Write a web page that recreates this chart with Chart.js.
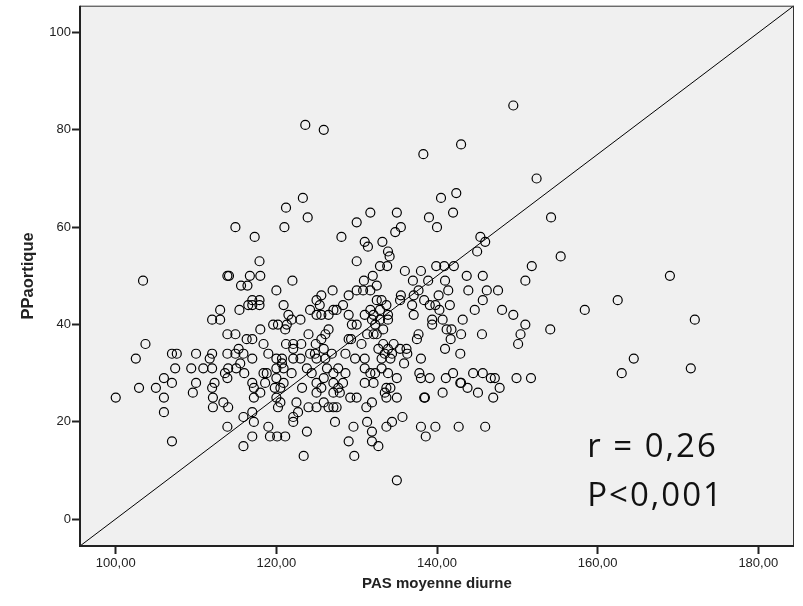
<!DOCTYPE html>
<html>
<head>
<meta charset="utf-8">
<script src="https://cdn.jsdelivr.net/npm/chart.js@4.4.1/dist/chart.umd.min.js"></script>
<style>
  html, body { margin: 0; padding: 0; background: #ffffff; }
  #wrap { width: 803px; height: 606px; }
</style>
</head>
<body>
<div id="wrap"><canvas id="chartPP"></canvas></div>
<script>
// PAS moyenne diurne (x) / PPaortique (y)
const pasDiurne = [
    149.5, 143.0, 138.3, 152.4, 140.5, 142.4, 131.7, 135.0, 130.0, 139.0,
    142.0, 135.5, 134.8, 140.0, 128.1, 154.2, 131.0, 131.4, 133.2, 145.4,
    146.0, 133.9, 134.1, 145.0, 155.4, 130.0, 132.9, 133.8, 136.0, 138.0,
    139.9, 140.9, 142.1, 151.8, 143.7, 145.7, 132.0, 130.9, 137.0, 138.9,
    141.0, 151.0, 132.5, 123.6, 125.9, 123.3, 121.2, 123.9, 114.9, 121.0,
    117.3, 117.9, 113.9, 114.1, 116.7, 118.0, 103.4, 122.0, 115.6, 116.4,
    116.5, 113.0, 115.4, 112.0, 113.0, 113.9, 114.9, 116.3, 103.7, 102.5,
    107.0, 107.6, 110.0, 112.0, 111.7, 113.9, 114.9, 115.9, 115.3, 115.5,
    107.4, 109.4, 110.9, 112.0, 114.0, 115.0, 113.6, 113.9, 116.0, 106.0,
    107.0, 110.0, 112.3, 102.9, 105.0, 112.0, 109.6, 100.0, 106.0, 112.1,
    113.4, 114.0, 112.1, 106.0, 115.9, 113.9, 107.0, 115.9,
    120.0, 127.0, 129.0, 130.0, 130.8, 131.7, 125.6, 125.0, 117.0, 117.9,
    117.0, 117.9, 120.9, 125.4, 124.2, 127.1, 127.5, 128.3, 129.0, 131.0,
    132.5, 133.1, 133.7, 135.5, 135.4, 131.7, 132.1, 132.9, 133.9, 125.0,
    125.6, 126.5, 121.5, 121.9, 123.0, 119.6, 120.2, 121.3, 121.1, 118.0,
    129.4, 130.0, 131.9, 132.3, 132.9, 133.9, 132.5, 133.3, 124.0, 126.5,
    126.1, 125.6, 129.0, 129.3, 131.3, 132.1, 117.0, 118.4, 121.2, 122.1,
    123.1, 124.9, 122.1, 125.9, 130.6, 133.3, 134.6, 132.7, 133.9, 135.4,
    133.5, 134.4, 117.0, 119.0, 120.0, 120.7, 120.7, 122.1, 123.0, 124.2,
    124.8, 125.0, 126.1, 126.9, 128.6, 129.8, 131.0, 133.1, 134.2, 135.9,
    118.4, 118.8, 120.0, 120.9, 121.9, 123.8, 124.4, 126.3, 127.1, 127.7,
    128.6, 131.0, 131.7, 132.3, 133.1, 133.9, 135.0, 117.0, 117.2, 118.6,
    120.0, 119.8, 120.5, 120.9, 123.2, 125.0, 125.6, 125.0, 125.9, 127.1,
    127.7, 128.3, 127.1, 127.9, 131.0, 132.1, 133.7, 133.5, 134.2, 117.2,
    118.0, 120.0, 120.5, 120.2, 122.5, 124.0, 125.0, 126.5, 127.1, 127.5,
    125.9, 129.2, 130.0, 131.9, 131.2, 133.7, 135.0, 117.0, 117.2, 122.1,
    122.1, 122.7, 119.0, 123.8, 127.3, 129.6, 131.3, 131.9, 133.7, 134.4,
    135.7, 117.0, 119.2, 120.1, 121.1, 129.0, 131.9, 132.7, 123.4, 129.7,
    135.0, 138.6,
    137.7, 137.1, 141.4, 143.9, 146.2, 147.6, 140.2, 145.7, 138.4, 136.9,
    139.1, 139.8, 141.6, 140.3, 144.7, 148.1, 137.1, 149.5, 139.4, 139.4,
    140.7, 143.2, 151.0, 154.1, 141.2, 141.8, 143.0, 145.6, 150.4, 137.7,
    137.5, 141.7, 150.1, 141.0, 142.9, 136.2, 136.3, 138.0, 137.8, 138.0,
    139.1, 142.0, 141.1, 144.5, 145.7, 146.7, 147.2, 149.9, 151.7, 142.9,
    143.0, 143.8, 147.8, 140.7, 145.1, 147.0, 138.4, 138.5, 138.0, 139.8,
    142.7, 146.0,
    169.0, 162.5, 158.4, 172.1, 164.5, 163.0, 171.6
];

const ppAortique = [
    85, 77, 75, 70, 66, 67, 63, 63, 61, 62,
    63, 60, 59, 60, 58, 62, 57, 56, 57, 58,
    57, 55, 54, 55, 54, 53, 52, 52, 51, 51,
    52, 52, 52, 52, 50, 50, 50, 49, 49, 49,
    49, 49, 48, 81, 80, 66, 64, 62, 60, 60,
    58, 53, 50, 50, 50, 50, 49, 49, 48, 48,
    44, 43, 43, 41, 41, 38, 38, 37, 36, 33,
    34, 34, 34, 34, 33, 34, 34, 34, 35, 32,
    31, 31, 31, 31, 31, 31, 30, 29, 30, 29,
    28, 28, 28, 27, 27, 27, 26, 25, 25, 25,
    24, 23, 23, 22, 21, 19, 16, 15,
    47, 47, 46, 47, 47, 47, 46, 45, 45, 45,
    44, 44, 44, 44, 43, 43, 43, 44, 42, 42,
    45, 45, 44, 46, 45, 43, 42, 43, 42, 42,
    42, 42, 42, 41, 41, 40, 40, 40, 39, 39,
    40, 40, 41, 40, 41, 41, 38, 39, 38, 39,
    38, 37, 37, 37, 38, 38, 37, 36, 36, 36,
    36, 36, 35, 35, 36, 36, 36, 35, 35, 35,
    34, 34, 33, 34, 33, 33, 32, 33, 33, 34,
    34, 33, 33, 34, 34, 33, 33, 33, 33, 32,
    30, 30, 31, 31, 30, 31, 30, 31, 30, 31,
    30, 31, 30, 30, 31, 30, 29, 28, 27, 28,
    29, 27, 27, 28, 27, 28, 27, 26, 29, 28,
    27, 28, 26, 26, 28, 28, 27, 26, 27, 25,
    26, 25, 24, 23, 24, 23, 23, 23, 23, 23,
    24, 25, 25, 24, 23, 25, 25, 22, 20, 21,
    20, 22, 19, 18, 20, 19, 20, 18, 19, 20,
    21, 17, 17, 17, 17, 16, 16, 15, 13, 13,
    8, 17,
    47, 46, 47, 47, 47, 47, 46, 45, 45, 44,
    44, 44, 44, 43, 43, 43, 42, 42, 41, 40,
    41, 41, 40, 39, 39, 39, 38, 38, 38, 38,
    37, 37, 36, 35, 34, 35, 34, 33, 30, 29,
    29, 30, 29, 30, 30, 29, 29, 29, 29, 28,
    28, 27, 27, 26, 26, 25, 25, 25, 19, 19,
    19, 19,
    50, 45, 43, 41, 33, 30, 31
];

const xTicks = [100, 120, 140, 160, 180];
const yTicks = [0, 20, 40, 60, 80, 100];
const xBounds = [95.55, 184.45];
const yBounds = [-5.5, 105.5];
const statLines = ['r = 0,26', 'P<0,001'];

const points = pasDiurne.map(function (x, i) {
    return { x: x, y: ppAortique[i] };
});

// fond gris + cadre + texte r / P
const plotFrame = {
    id: 'plotFrame',
    beforeDatasetsDraw: function (chart) {
        const a = chart.chartArea;
        const ctx = chart.ctx;
        ctx.save();
        ctx.fillStyle = '#f0f0f0';
        ctx.fillRect(a.left, a.top, a.right - a.left, a.bottom - a.top);
        ctx.restore();
    },
    afterDraw: function (chart) {
        const a = chart.chartArea;
        const ctx = chart.ctx;
        ctx.save();
        ctx.strokeStyle = '#333';
        ctx.lineWidth = 1;
        ctx.strokeRect(a.left + 0.5, a.top + 0.5, a.right - a.left - 1, a.bottom - a.top);
        ctx.lineWidth = 2;
        ctx.strokeStyle = '#222';
        ctx.beginPath();
        ctx.moveTo(a.left, a.top);
        ctx.lineTo(a.left, a.bottom);
        ctx.lineTo(a.right, a.bottom);
        ctx.stroke();

        const xs = chart.scales.x;
        const ys = chart.scales.y;
        ctx.fillStyle = '#111';
        ctx.font = '33px "Open Sans", "Noto Sans", sans-serif';
        ctx.letterSpacing = '2px';
        ctx.textAlign = 'left';
        ctx.textBaseline = 'alphabetic';
        ctx.fillText(statLines[0], xs.getPixelForValue(158.7), ys.getPixelForValue(12.8));
        ctx.fillText(statLines[1], xs.getPixelForValue(158.7), ys.getPixelForValue(2.7));
        ctx.restore();
    }
};

new Chart(document.getElementById('chartPP'), {
    type: 'scatter',
    data: {
        datasets: [{
            label: 'PPaortique',
            data: points,
            showLine: false,
            pointStyle: 'circle',
            pointRadius: 4.5,
            pointHoverRadius: 4.5,
            pointBorderWidth: 1.2,
            pointBorderColor: '#000',
            pointBackgroundColor: 'rgba(0,0,0,0)',
            order: 2
        }, {
            type: 'line',
            label: 'diag',
            data: [{ x: xBounds[0], y: yBounds[0] }, { x: xBounds[1], y: yBounds[1] }],
            borderColor: '#000',
            borderWidth: 1,
            pointRadius: 0,
            fill: false,
            order: 1
        }]
    },
    options: {
        responsive: true,
        maintainAspectRatio: false,
        animation: false,
        events: [],
        layout: {
            padding: { left: 0, right: 9, top: 5, bottom: 0 }
        },
        plugins: {
            legend: { display: false },
            tooltip: { enabled: false }
        },
        scales: {
            x: {
                type: 'linear',
                min: xBounds[0],
                max: xBounds[1],
                afterBuildTicks: function (scale) {
                    scale.ticks = xTicks.map(function (v) { return { value: v }; });
                },
                afterFit: function (scale) {
                    scale.height = 60;
                    scale.paddingLeft = 0;
                    scale.paddingRight = 0;
                },
                grid: {
                    drawOnChartArea: false,
                    drawTicks: true,
                    tickLength: 8,
                    tickWidth: 2,
                    tickColor: '#222'
                },
                border: { display: false },
                ticks: {
                    padding: 2,
                    color: '#222',
                    font: { family: '"Liberation Sans", Arial, sans-serif', size: 13 },
                    callback: function (value) {
                        return value.toFixed(2).replace('.', ',');
                    }
                },
                title: {
                    display: true,
                    text: 'PAS moyenne diurne',
                    color: '#222',
                    font: { family: '"Liberation Sans", Arial, sans-serif', size: 15, weight: 'bold' },
                    padding: { top: 4, bottom: 13 }
                }
            },
            y: {
                type: 'linear',
                min: yBounds[0],
                max: yBounds[1],
                afterBuildTicks: function (scale) {
                    scale.ticks = yTicks.map(function (v) { return { value: v }; });
                },
                afterFit: function (scale) {
                    scale.width = 80;
                    scale.paddingTop = 0;
                    scale.paddingBottom = 0;
                },
                grid: {
                    drawOnChartArea: false,
                    drawTicks: true,
                    tickLength: 8,
                    tickWidth: 2,
                    tickColor: '#222'
                },
                border: { display: false },
                ticks: {
                    padding: 1,
                    color: '#222',
                    font: { family: '"Liberation Sans", Arial, sans-serif', size: 13 }
                },
                title: {
                    display: true,
                    text: 'PPaortique',
                    color: '#222',
                    font: { family: '"Liberation Sans", Arial, sans-serif', size: 16.5, weight: 'bold' },
                    padding: { top: 19, bottom: 4 }
                }
            }
        }
    },
    plugins: [plotFrame]
});
</script>
</body>
</html>
